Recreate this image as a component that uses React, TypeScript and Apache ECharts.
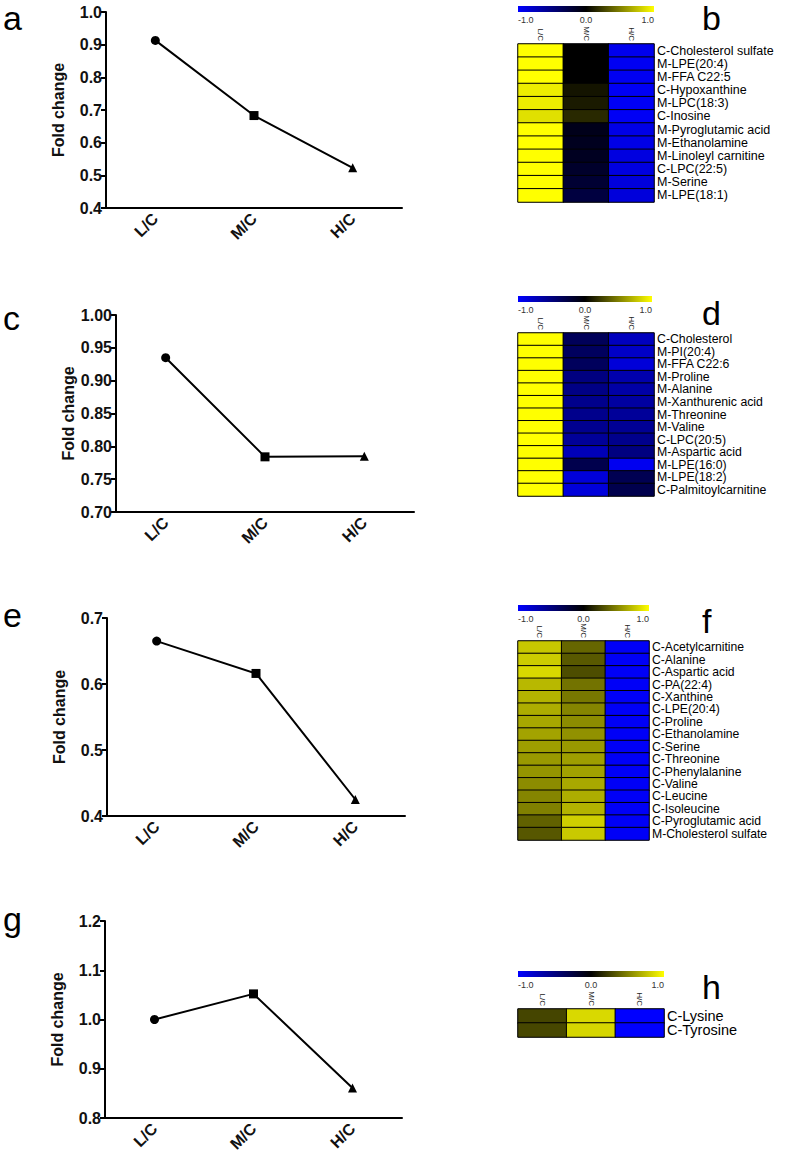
import React, { useEffect, useRef } from "react";
import * as echarts from "echarts";

const FONT = "'Liberation Sans', Arial, Helvetica, sans-serif";

// ---- line chart data ----
const lineCategories = ["L/C", "M/C", "H/C"];
const lineSymbols = ["circle", "rect", "triangle"];
const valuesA = [0.913, 0.683, 0.523];
const valuesC = [0.935, 0.784, 0.785];
const valuesE = [0.665, 0.616, 0.425];
const valuesG = [1.0, 1.052, 0.861];

// ---- heatmap data ----
const heatColumns = ["L/C", "M/C", "H/C"];
const colorbarTicks = ["-1.0", "0.0", "1.0"];

const rowsB = [
  "C-Cholesterol sulfate", "M-LPE(20:4)", "M-FFA C22:5", "C-Hypoxanthine", "M-LPC(18:3)", "C-Inosine",
  "M-Pyroglutamic acid", "M-Ethanolamine", "M-Linoleyl carnitine", "C-LPC(22:5)", "M-Serine", "M-LPE(18:1)",
];
const bLC = [1, 1, 1, 0.93, 0.93, 0.88, 1, 1, 1, 1, 1, 1];
const bMC = [0.0, 0.0, 0.0, 0.08, 0.1, 0.16, -0.1, -0.12, -0.13, -0.17, -0.2, -0.25];
const bHC = [-0.93, -0.95, -0.95, -0.96, -0.96, -0.96, -0.9, -0.9, -0.88, -0.88, -0.86, -0.86];

const rowsD = [
  "C-Cholesterol", "M-PI(20:4)", "M-FFA C22:6", "M-Proline", "M-Alanine", "M-Xanthurenic acid", "M-Threonine",
  "M-Valine", "C-LPC(20:5)", "M-Aspartic acid", "M-LPE(16:0)", "M-LPE(18:2)", "C-Palmitoylcarnitine",
];
const dLC = [1, 1, 1, 1, 1, 1, 1, 1, 1, 1, 1, 1, 1];
const dMC = [-0.35, -0.37, -0.36, -0.5, -0.52, -0.55, -0.55, -0.56, -0.6, -0.72, -0.3, -0.85, -0.86];
const dHC = [-0.75, -0.78, -0.85, -0.68, -0.65, -0.63, -0.6, -0.58, -0.55, -0.5, -0.94, -0.32, -0.3];

const rowsF = [
  "C-Acetylcarnitine", "C-Alanine", "C-Aspartic acid", "C-PA(22:4)", "C-Xanthine", "C-LPE(20:4)", "C-Proline",
  "C-Ethanolamine", "C-Serine", "C-Threonine", "C-Phenylalanine", "C-Valine", "C-Leucine", "C-Isoleucine",
  "C-Pyroglutamic acid", "M-Cholesterol sulfate",
];
const fLC = [0.78, 0.8, 0.85, 0.72, 0.7, 0.68, 0.66, 0.64, 0.62, 0.6, 0.58, 0.55, 0.52, 0.5, 0.38, 0.34];
const fMC = [0.4, 0.35, 0.3, 0.45, 0.47, 0.52, 0.55, 0.57, 0.6, 0.62, 0.63, 0.66, 0.68, 0.7, 0.81, 0.79];
const fHC = [-0.97, -0.97, -0.97, -0.97, -0.97, -0.97, -0.97, -0.97, -0.97, -0.97, -0.97, -0.97, -0.97, -0.97, -0.97, -0.97];

const rowsH = ["C-Lysine", "C-Tyrosine"];
const hLC = [0.27, 0.28];
const hMC = [0.85, 0.84];
const hHC = [-1, -1];

const panelLetters = ["a", "b", "c", "d", "e", "f", "g", "h"];

type LinePanel = { left: number; top: number; width: number; height: number; min: number; max: number; interval: number; digits: number; values: number[] };
type HeatPanel = { left: number; top: number; width: number; height: number; rows: string[]; cols: number[][]; labelSize: number; rowH: number; cbTop: number; cbWidth: number };

const linePanels: LinePanel[] = [
  { left: 106, top: 12, width: 296, height: 196, min: 0.4, max: 1.0, interval: 0.1, digits: 1, values: valuesA },
  { left: 116, top: 315, width: 298, height: 197, min: 0.7, max: 1.0, interval: 0.05, digits: 2, values: valuesC },
  { left: 107, top: 618, width: 298, height: 198, min: 0.4, max: 0.7, interval: 0.1, digits: 1, values: valuesE },
  { left: 105, top: 921, width: 297, height: 197, min: 0.8, max: 1.2, interval: 0.1, digits: 1, values: valuesG },
];

const heatPanels: HeatPanel[] = [
  { left: 518, top: 44, width: 136, height: 158, rows: rowsB, cols: [bLC, bMC, bHC], labelSize: 12.5, rowH: 12, cbTop: 6, cbWidth: 136 },
  { left: 518, top: 333, width: 136, height: 163, rows: rowsD, cols: [dLC, dMC, dHC], labelSize: 12.3, rowH: 12, cbTop: 296, cbWidth: 134 },
  { left: 518, top: 641, width: 131, height: 199, rows: rowsF, cols: [fLC, fMC, fHC], labelSize: 12.2, rowH: 12, cbTop: 605, cbWidth: 131 },
  { left: 518, top: 1009, width: 146, height: 28, rows: rowsH, cols: [hLC, hMC, hHC], labelSize: 14.5, rowH: 13, cbTop: 971, cbWidth: 146 },
];

const letterPos = [
  [3, 18], [702, 18], [3, 318], [702, 313], [3, 615], [702, 621], [3, 919], [702, 987],
];

export default function App() {
  const ref = useRef<HTMLDivElement>(null);
  useEffect(() => {
    document.body.style.margin = "0";
    const chart = echarts.init(ref.current!, null, { renderer: "svg" });

    const grid: any[] = [];
    const xAxis: any[] = [];
    const yAxis: any[] = [];
    const series: any[] = [];
    const graphic: any[] = [];

    linePanels.forEach((p, i) => {
      grid.push({ left: p.left, top: p.top, width: p.width, height: p.height, containLabel: false });
      xAxis.push({
        type: "category", gridIndex: i, data: lineCategories, boundaryGap: true,
        axisLine: { lineStyle: { color: "#000", width: 2 } },
        axisTick: { alignWithLabel: true, length: 5, lineStyle: { color: "#000", width: 2 } },
        axisLabel: { rotate: 45, margin: 8, fontFamily: FONT, fontWeight: "bold", fontSize: 16, color: "#111" },
        splitLine: { show: false },
      });
      yAxis.push({
        type: "value", gridIndex: i, min: p.min, max: p.max, interval: p.interval,
        name: "Fold change", nameLocation: "middle", nameGap: 40,
        nameTextStyle: { fontFamily: FONT, fontWeight: "bold", fontSize: 16, color: "#111" },
        axisLine: { show: true, lineStyle: { color: "#000", width: 2 } },
        axisTick: { show: true, length: 5, lineStyle: { color: "#000", width: 2 } },
        axisLabel: { margin: 4, fontFamily: FONT, fontWeight: "bold", fontSize: 16, color: "#111", formatter: (v: number) => v.toFixed(p.digits) },
        splitLine: { show: false },
      });
      series.push({
        type: "line", xAxisIndex: i, yAxisIndex: i,
        data: p.values.map((v, k) => ({ value: v, symbol: lineSymbols[k] })),
        symbolSize: 9, lineStyle: { color: "#000", width: 2 }, itemStyle: { color: "#000" },
      });
    });

    const heatSeriesIdx: number[] = [];
    heatPanels.forEach((p, j) => {
      const gi = linePanels.length + j;
      grid.push({ left: p.left, top: p.top, width: p.width, height: p.height, show: true, borderColor: "#9a9ab0", borderWidth: 1, backgroundColor: "transparent" });
      xAxis.push({
        type: "category", gridIndex: gi, data: heatColumns, position: "top",
        axisLine: { show: false }, axisTick: { show: false }, splitLine: { show: false },
        axisLabel: { interval: 0, rotate: 90, margin: 3, fontFamily: FONT, fontSize: 8, color: "#222" },
      });
      yAxis.push({
        type: "category", gridIndex: gi, data: p.rows, position: "right", inverse: true,
        axisLine: { show: false }, axisTick: { show: false }, splitLine: { show: false },
        axisLabel: { interval: 0, margin: 3, fontFamily: FONT, fontSize: p.labelSize, lineHeight: p.rowH, color: "#000" },
      });
      const data: number[][] = [];
      p.cols.forEach((col, c) => col.forEach((v, r) => data.push([c, r, v])));
      heatSeriesIdx.push(series.length);
      series.push({
        type: "heatmap", xAxisIndex: gi, yAxisIndex: gi, data,
        itemStyle: { borderColor: "#000", borderWidth: 1 },
        emphasis: { disabled: true },
      });
      // colorbar
      graphic.push({
        type: "rect", left: p.left, top: p.cbTop,
        shape: { width: p.cbWidth, height: 6 },
        style: {
          fill: new echarts.graphic.LinearGradient(0, 0, 1, 0, [
            { offset: 0, color: "#0000ff" }, { offset: 0.5, color: "#000000" }, { offset: 1, color: "#ffff00" },
          ]),
        },
      });
      colorbarTicks.forEach((t, k) => {
        graphic.push({
          type: "text",
          x: p.left + (p.cbWidth * k) / 2, y: p.cbTop + 14,
          style: { text: t, fontFamily: FONT, fontSize: 9, lineHeight: 10, fill: "#333", align: k === 0 ? "left" : k === 1 ? "center" : "right", verticalAlign: "middle" },
        });
      });
    });

    panelLetters.forEach((l, i) => {
      graphic.push({
        type: "text", x: letterPos[i][0], y: letterPos[i][1],
        style: { text: l, fontFamily: FONT, fontSize: 34, lineHeight: 28, fill: "#000", align: "left", verticalAlign: "middle" },
      });
    });

    chart.setOption({
      animation: false,
      backgroundColor: "#fff",
      grid, xAxis, yAxis, series, graphic,
      visualMap: {
        type: "continuous", show: false, min: -1, max: 1, seriesIndex: heatSeriesIdx,
        inRange: { color: ["#0000ff", "#000000", "#ffff00"] },
      },
    });
    return () => chart.dispose();
  }, []);
  return <div ref={ref} style={{ width: 787, height: 1160 }} />;
}
